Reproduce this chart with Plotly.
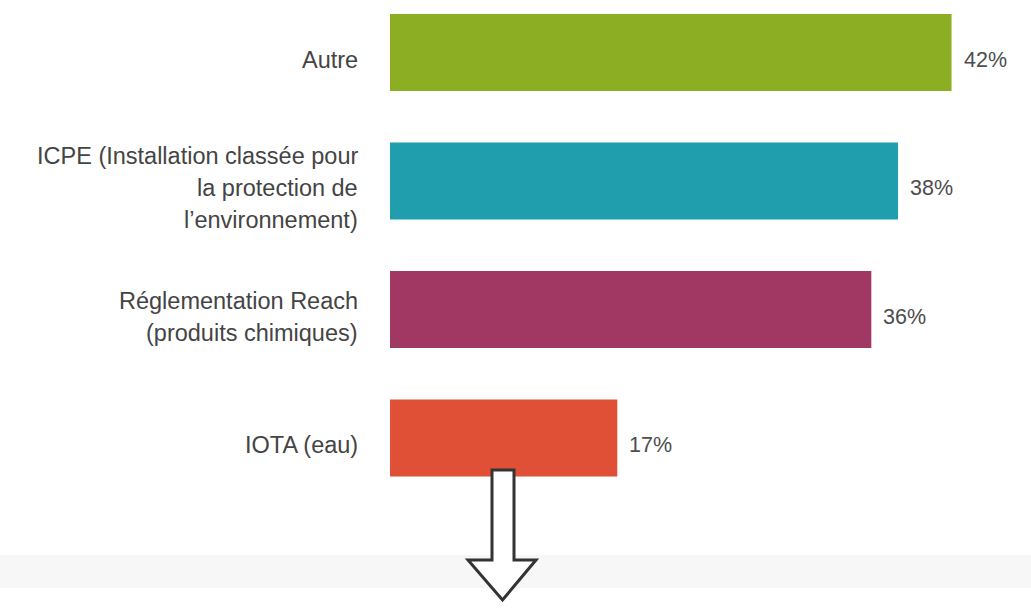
import plotly.graph_objects as go

categories = [
    "Autre",
    "ICPE (Installation classée pour<br>la protection de<br>l’environnement)",
    "Réglementation Reach<br>(produits chimiques)",
    "IOTA (eau)",
]
values = [42, 38, 36, 17]
value_labels = ["42%", "38%", "36%", "17%"]
colors = ["#8CAE22", "#219EAE", "#A13763", "#DF5037"]

W, H = 1031, 609
L = 390
PW = W - L
px_per_unit = 13.37
x_max = PW / px_per_unit

# y axis: category index -> pixel
top_center = 52.5
step = 128.5
y_top = -top_center / step
y_bottom = 3 + (H - (top_center + 3 * step)) / step

fig = go.Figure()
fig.add_trace(go.Bar(
    x=values, y=list(range(len(categories))), orientation="h",
    marker=dict(color=colors, line=dict(width=0)),
    width=0.6, hoverinfo="skip", showlegend=False,
))

font_family = "Liberation Sans, Arial, sans-serif"
line_gap = 32
for i, (cat, v, lab) in enumerate(zip(categories, values, value_labels)):
    lines = cat.split("<br>")
    n = len(lines)
    for k, line in enumerate(lines):
        offset = (k - (n - 1) / 2) * line_gap
        fig.add_annotation(x=0, y=i, xref="x", yref="y", text=line, showarrow=False,
                           xanchor="right", yanchor="middle", align="right",
                           xshift=-30, yshift=-7 - offset,
                           font=dict(family=font_family, size=23.5, color="#444444"))
    fig.add_annotation(x=v, y=i, xref="x", yref="y", text=lab, showarrow=False,
                       xanchor="left", yanchor="middle", xshift=10, yshift=-7,
                       font=dict(family=font_family, size=21.5, color="#4d4d4d"))

def pxx(p):
    return (p - L) / PW

def pxy(p):
    return 1 - p / H

# light gray band at the bottom
fig.add_shape(type="rect", xref="paper", yref="paper",
              x0=pxx(0), x1=pxx(W), y0=pxy(588), y1=pxy(555),
              fillcolor="#F7F7F7", line=dict(width=0), layer="below")

# outlined down arrow
pts = [(492, 470), (514, 470), (514, 560), (536, 560), (502.5, 600),
       (468, 560), (492, 560)]
path = "M " + " L ".join(f"{pxx(a):.5f},{pxy(b):.5f}" for a, b in pts) + " Z"
fig.add_shape(type="path", xref="paper", yref="paper", path=path,
              fillcolor="white", line=dict(color="#333333", width=3), layer="above")

fig.update_layout(
    width=W, height=H,
    margin=dict(l=L, r=0, t=0, b=0),
    paper_bgcolor="white", plot_bgcolor="white",
    xaxis=dict(range=[0, x_max], visible=False, fixedrange=True),
    yaxis=dict(range=[y_bottom, y_top], visible=False, fixedrange=True),
    bargap=0.4,
)
fig.write_html(
    "out.html",
    config={"displayModeBar": False},
    post_script="document.body.style.margin='0';document.body.style.overflow='hidden';",
)
